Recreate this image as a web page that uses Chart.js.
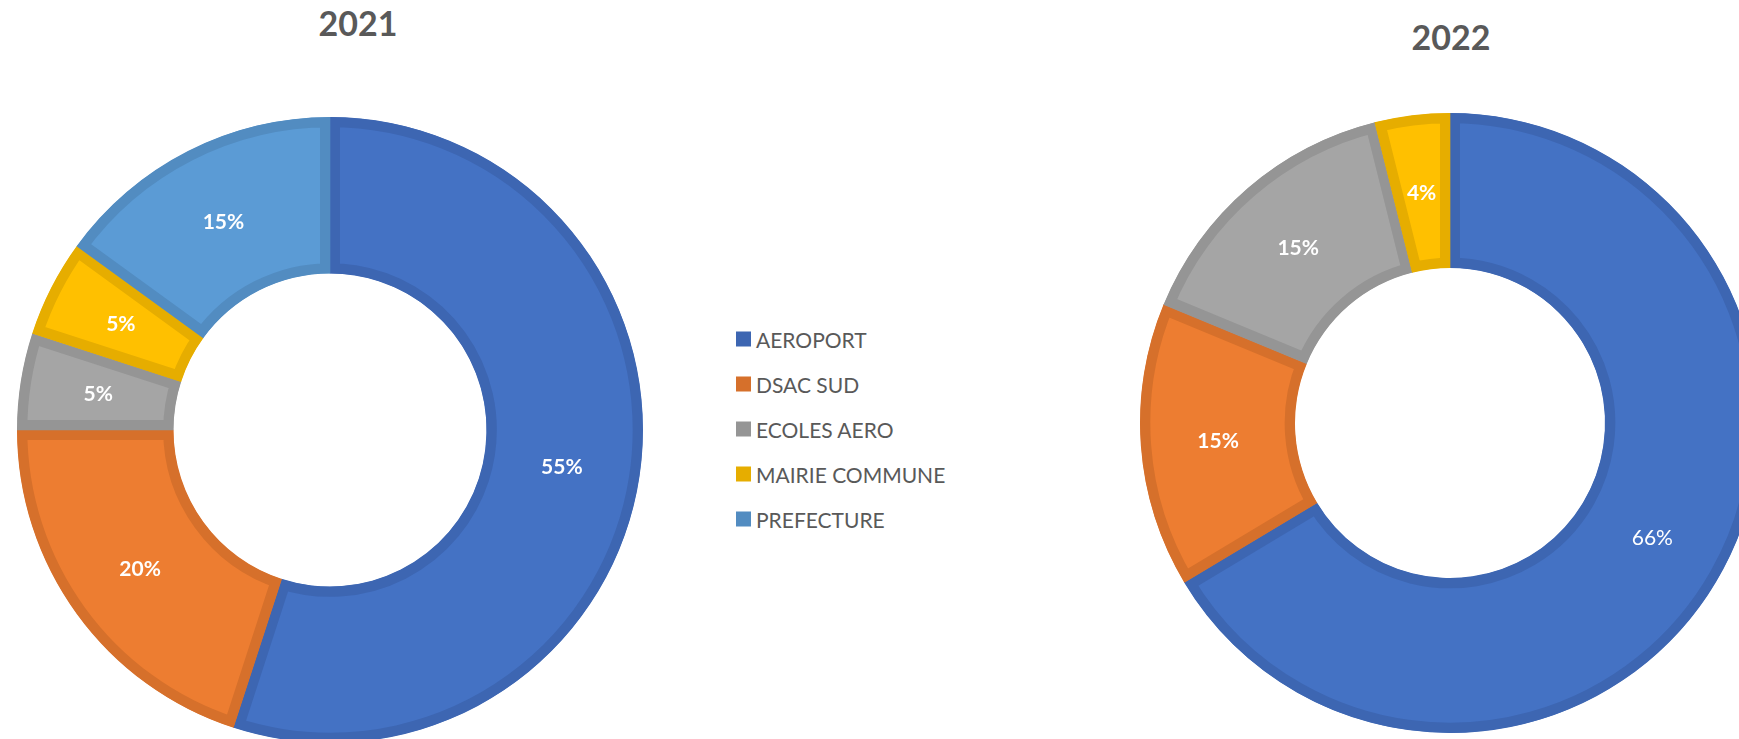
<!DOCTYPE html>
<html>
<head>
<meta charset="utf-8">
<script src="https://cdn.jsdelivr.net/npm/chart.js@4.4.0/dist/chart.umd.min.js"></script>
<style>
  html, body { margin: 0; padding: 0; background: #fff; }
  body { position: relative; width: 1739px; height: 739px; overflow: hidden; font-family: Lato, "Open Sans", sans-serif; }
  canvas { position: absolute; }
  .title { position: absolute; transform: translate(-50%, -50%); font-weight: bold; font-size: 34px; line-height: 1; color: #595959; white-space: nowrap; }
  .item { position: absolute; left: 736px; display: flex; align-items: center; transform: translateY(-50%); font-size: 21px; line-height: 1; color: #595959; white-space: nowrap; }
  .box { width: 15px; height: 15px; margin-right: 5px; }
</style>
</head>
<body>
<div class="title" id="t2021" style="left:358px; top:23px"></div>
<div class="title" id="t2022" style="left:1451px; top:37px"></div>
<canvas id="chart2021" width="660" height="860" style="left:0; top:0"></canvas>
<canvas id="chart2022" width="660" height="860" style="left:1120px; top:-7px"></canvas>
<div id="legend"></div>
<script>
const categories = ['AEROPORT', 'DSAC SUD', 'ECOLES AERO', 'MAIRIE COMMUNE', 'PREFECTURE']
const years = ['2021', '2022']
const values2021 = [55, 20, 5, 5, 15]
const values2022 = [66.4, 14.85, 14.85, 3.9, 0]

const fillColors = ['#4472C4', '#ED7D31', '#A5A5A5', '#FFC000', '#5B9BD5']
const edgeColors = ['#3D66B2', '#D6702B', '#959595', '#E6AD00', '#528CC1']

// percent labels in the middle of each ring slice
const sliceLabels = {
    id: 'sliceLabels',
    afterDatasetsDraw(chart, args, opts) {
        const ctx = chart.ctx
        const data = chart.data.datasets[0].data
        const total = data.reduce((a, b) => a + b, 0)
        const arcs = chart.getDatasetMeta(0).data
        const thin = opts.thin || []
        ctx.save()
        ctx.fillStyle = '#ffffff'
        ctx.textAlign = 'center'
        ctx.textBaseline = 'middle'
        arcs.forEach((arc, i) => {
            if (!data[i]) return
            const p = arc.getCenterPoint()
            ctx.font = (thin.indexOf(i) === -1 ? 'bold' : 'normal') + ' 21px Lato, "Open Sans", sans-serif'
            ctx.fillText(Math.round(data[i] / total * 100) + '%', p.x, p.y + 1)
        })
        ctx.restore()
    }
}

const makeDonut = (id, values, radius, thin) => {
    return new Chart(document.getElementById(id), {
        type: 'doughnut',
        data: {
            labels: categories,
            datasets: [{
                data: values,
                backgroundColor: fillColors,
                borderColor: edgeColors,
                borderWidth: 10,
                borderAlign: 'inner',
                borderJoinStyle: 'miter',
            }]
        },
        options: {
            responsive: false,
            animation: false,
            events: [],
            radius: radius,
            cutout: '50%',
            plugins: {
                legend: { display: false },
                tooltip: { enabled: false },
                sliceLabels: { thin: thin },
            }
        },
        plugins: [sliceLabels]
    })
}

document.getElementById('t2021').textContent = years[0]
document.getElementById('t2022').textContent = years[1]

makeDonut('chart2021', values2021, 313, [])
makeDonut('chart2022', values2022, 310, [0])

// legend between the two donuts
const legend = document.getElementById('legend')
categories.forEach((name, i) => {
    const item = document.createElement('div')
    item.className = 'item'
    item.style.top = (339 + i * 45) + 'px'
    const box = document.createElement('span')
    box.className = 'box'
    box.style.background = edgeColors[i]
    item.appendChild(box)
    item.appendChild(document.createTextNode(name))
    legend.appendChild(item)
})
</script>
</body>
</html>
